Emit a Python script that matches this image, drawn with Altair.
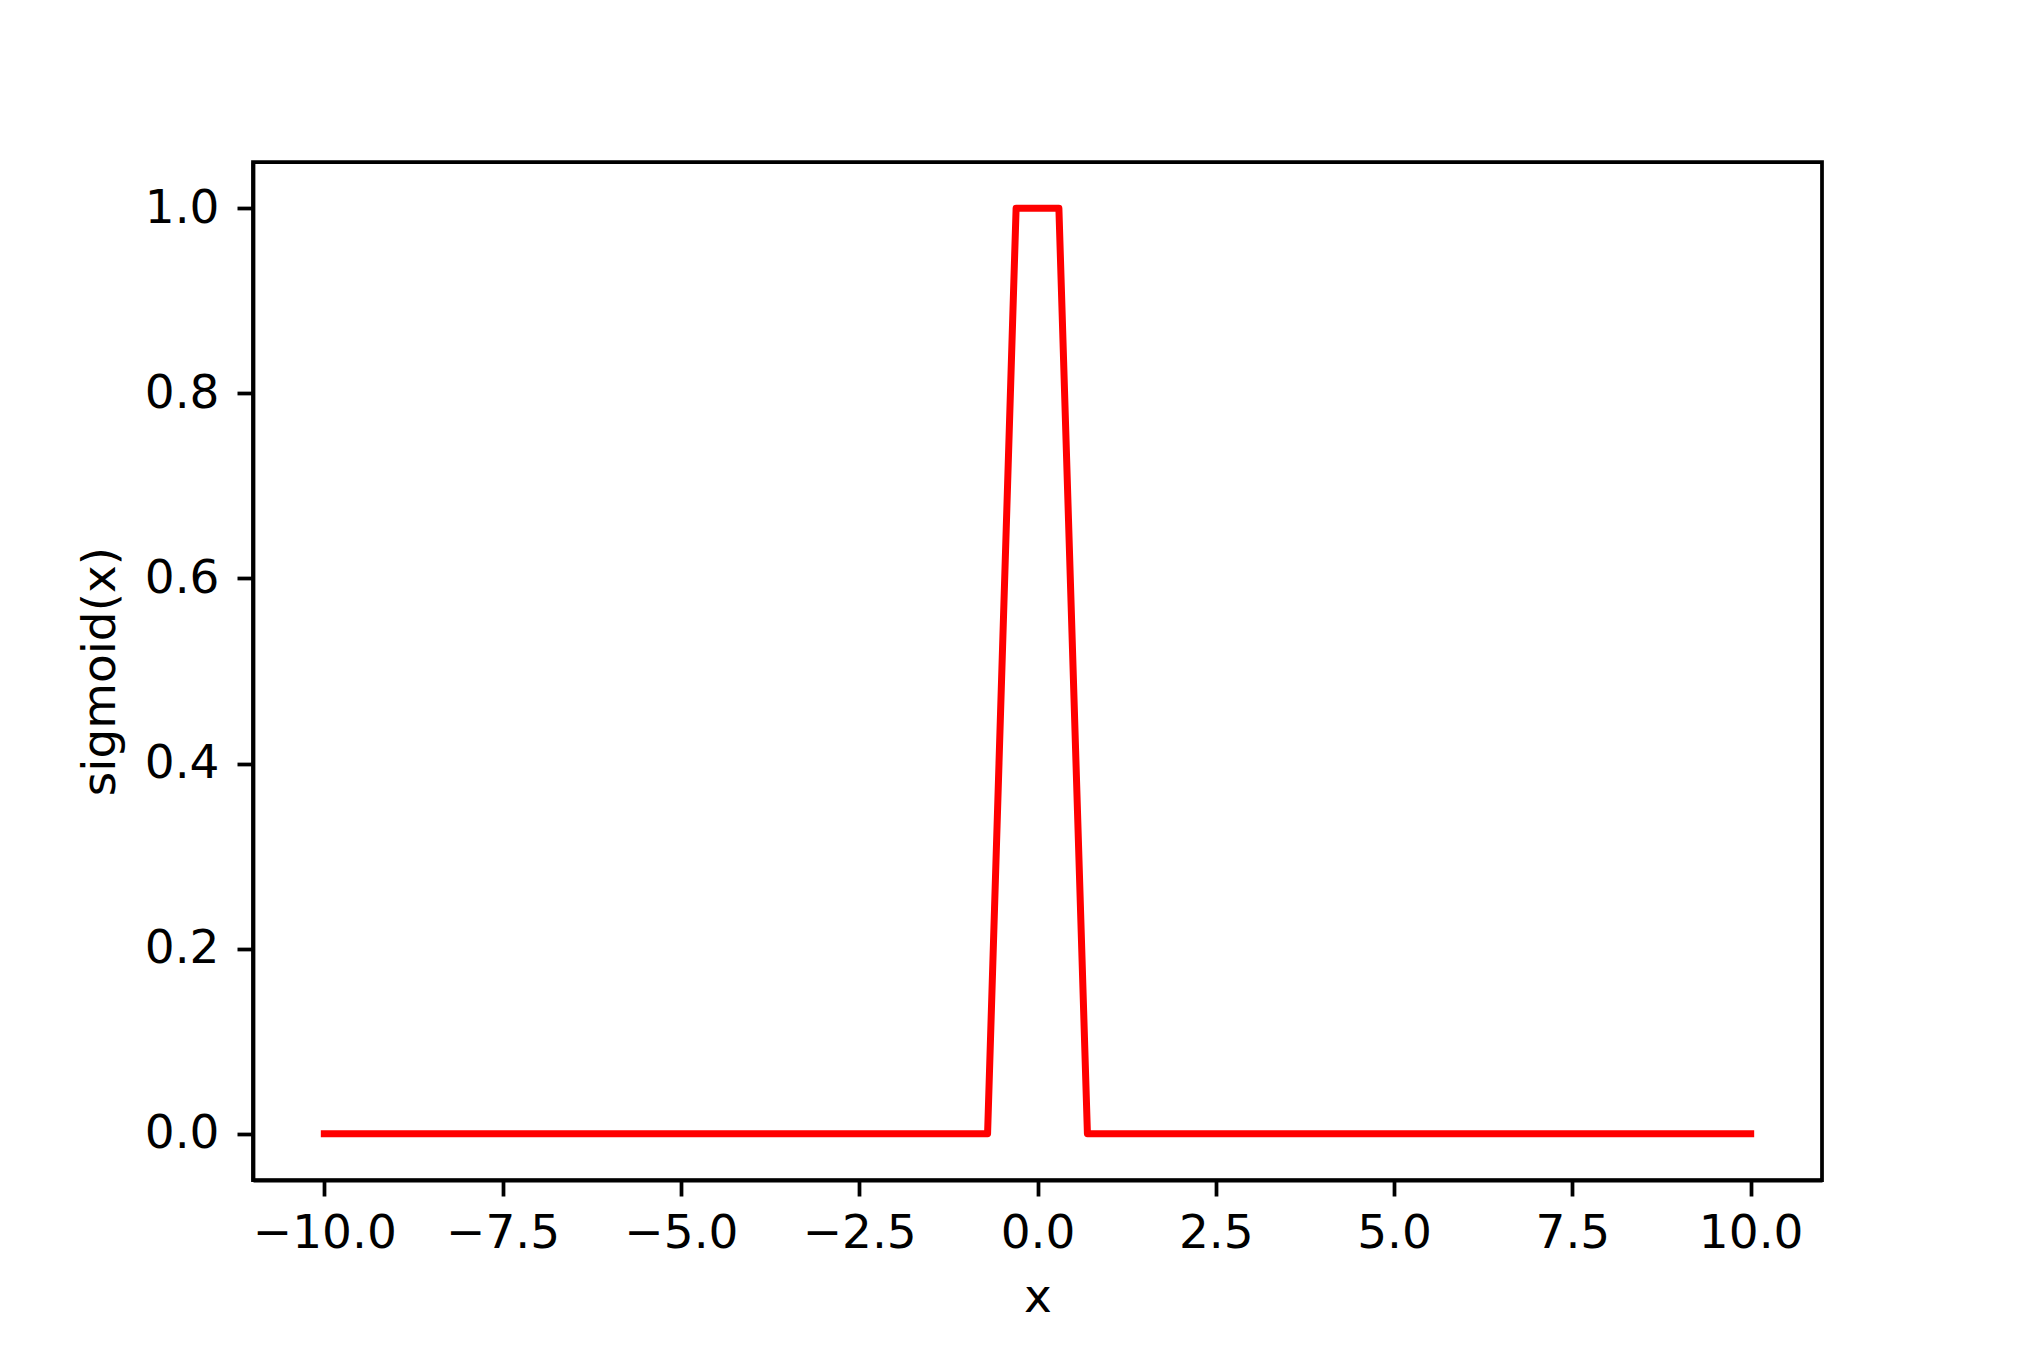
import altair as alt
import pandas as pd

x_vals = [-10.0, -0.7, -0.3, 0.3, 0.7, 10.0]
y_vals = [0.0, 0.0, 1.0, 1.0, 0.0, 0.0]
x_ticks = [-10.0, -7.5, -5.0, -2.5, 0.0, 2.5, 5.0, 7.5, 10.0]
y_ticks = [0.0, 0.2, 0.4, 0.6, 0.8, 1.0]

df = pd.DataFrame({"x": x_vals, "y": y_vals, "order": list(range(len(x_vals)))})

FONT = "DejaVu Sans"
FS = 47

chart = alt.Chart(df).mark_line(color="#ff0000", strokeWidth=7, strokeJoin="round", strokeCap="square").encode(
    x=alt.X("x:Q", scale=alt.Scale(domain=[-11, 11], nice=False, zero=False),
            axis=alt.Axis(values=x_ticks, format=".1f", title="x", grid=False,
                          tickSize=16, tickWidth=3.75, tickColor="black",
                          labelFont=FONT, labelFontSize=FS, labelColor="black",
                          labelPadding=14, labelFlush=False,
                          titleFont=FONT, titleFontSize=FS, titleFontWeight="normal",
                          titleColor="black", titlePadding=18,
                          domain=True, domainColor="black", domainWidth=3.75)),
    y=alt.Y("y:Q", scale=alt.Scale(domain=[-0.05, 1.05], nice=False, zero=False),
            axis=alt.Axis(values=y_ticks, format=".1f", title="sigmoid(x)", grid=False,
                          tickSize=16, tickWidth=3.75, tickColor="black",
                          labelFont=FONT, labelFontSize=FS, labelColor="black",
                          labelPadding=18, labelFlush=False,
                          titleFont=FONT, titleFontSize=FS, titleFontWeight="normal",
                          titleColor="black", titlePadding=20,
                          domain=True, domainColor="black", domainWidth=3.75)),
    order="order:Q",
).properties(
    width=1569, height=1018,
    autosize=alt.AutoSizeParams(type="none"),
    padding={"left": 245, "top": 154, "right": 190, "bottom": 160},
).configure(
    background="white",
    view=alt.ViewConfig(stroke="black", strokeWidth=3.75),
)

chart.save("out.html", embed_options={"renderer": "svg", "actions": False})
